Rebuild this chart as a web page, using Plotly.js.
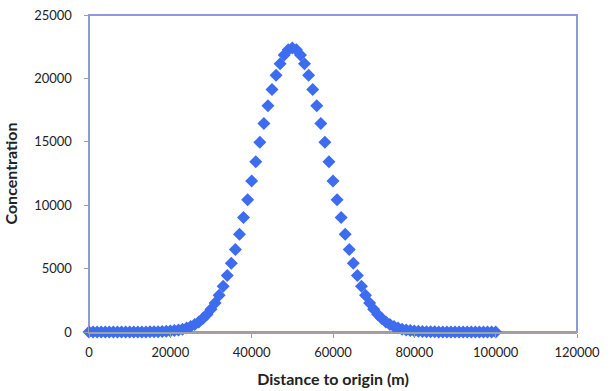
<!DOCTYPE html>
<html>
<head>
<meta charset="utf-8">
<script src="https://cdn.plot.ly/plotly-3.0.1.min.js"></script>
<style>html,body{margin:0;padding:0;background:#fff;}#chart{width:612px;height:391px;}</style>
</head>
<body>
<div id="chart"></div>
<script>
// Distance to origin (m), every 1000 m from 0 to 100000
const distance = [
  0,1000,2000,3000,4000,5000,6000,7000,8000,9000,
  10000,11000,12000,13000,14000,15000,16000,17000,18000,19000,
  20000,21000,22000,23000,24000,25000,26000,27000,28000,29000,
  30000,31000,32000,33000,34000,35000,36000,37000,38000,39000,
  40000,41000,42000,43000,44000,45000,46000,47000,48000,49000,
  50000,51000,52000,53000,54000,55000,56000,57000,58000,59000,
  60000,61000,62000,63000,64000,65000,66000,67000,68000,69000,
  70000,71000,72000,73000,74000,75000,76000,77000,78000,79000,
  80000,81000,82000,83000,84000,85000,86000,87000,88000,89000,
  90000,91000,92000,93000,94000,95000,96000,97000,98000,99000,
  100000
];
const concentration = [
  0,0,0,0,0,0,0,0,0,0,
  0,1,2,4,6,10,15,23,35,52,
  76,111,159,225,314,433,590,795,1055,1385,
  1794,2294,2897,3614,4451,5413,6500,7708,9026,10436,
  11915,13434,14956,16441,17847,19130,20248,21163,21842,22259,
  22400,
  22259,21842,21163,20248,19130,17847,16441,14956,13434,11915,
  10436,9026,7708,6500,5413,4451,3614,2897,2294,1794,
  1385,1055,795,590,433,314,225,159,111,76,
  52,35,23,15,10,6,4,2,1,0,
  0,0,0,0,0,0,0,0,0,0
];
const xTicks = [0,20000,40000,60000,80000,100000,120000];
const yTicks = [0,5000,10000,15000,20000,25000];

const trace = {
  x: distance, y: concentration, type: 'scatter', mode: 'markers',
  marker: {symbol: 'diamond', size: 10, color: '#3d6cf0'},
  hoverinfo: 'none', cliponaxis: false
};
const fam = 'Lato, "Open Sans", sans-serif';
const layout = {
  width: 612, height: 391,
  margin: {l: 89, r: 35, t: 15, b: 59},
  paper_bgcolor: '#fff', plot_bgcolor: '#fff',
  showlegend: false, font: {family: fam, color: '#222', size: 13},
  xaxis: {
    range: [0, 120000], tickvals: xTicks, ticktext: xTicks.map(String),
    showgrid: false, zeroline: false, showline: true, linecolor: '#a0a0a0', linewidth: 1.5,
    ticks: 'outside', ticklen: 4, tickcolor: '#a0a0a0', ticklabelstandoff: 4,
    tickfont: {family: fam, size: 13, color: '#222'},
    title: {text: '<b>Distance to origin (m)</b>', font: {family: fam, size: 16, color: '#222'}, standoff: 14}
  },
  yaxis: {
    range: [0, 25000], tickvals: yTicks, ticktext: yTicks.map(String),
    showgrid: false, zeroline: false, showline: true, linecolor: '#8c9bd8', linewidth: 1.5,
    ticks: 'outside', ticklen: 4, tickcolor: '#a0a0a0', ticklabelstandoff: 9,
    tickfont: {family: fam, size: 13, color: '#222'},
    title: {text: '<b>Concentration</b>', font: {family: fam, size: 16, color: '#222'}, standoff: 12}
  },
  shapes: [{type: 'rect', xref: 'paper', yref: 'paper', x0: 0, x1: 1, y0: 0, y1: 1,
            line: {color: '#8c9bd8', width: 2}, layer: 'below'}]
};
Plotly.newPlot('chart', [trace], layout, {staticPlot: true, displayModeBar: false});
</script>
</body>
</html>
